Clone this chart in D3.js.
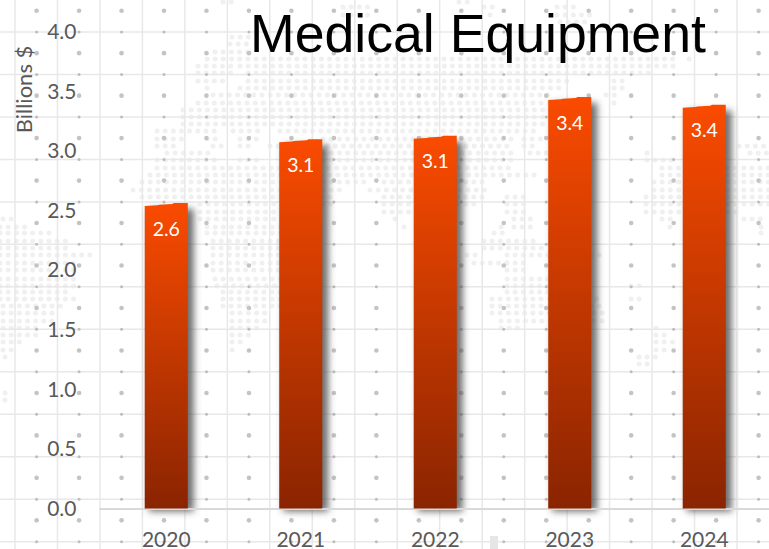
<!DOCTYPE html>
<html>
<head>
<meta charset="utf-8">
<script src="https://cdn.jsdelivr.net/npm/d3@7"></script>
<style>
  html, body { margin: 0; padding: 0; background: #fff; overflow: hidden; }
  svg { display: block; }
  .tick text { font-family: Lato, "Open Sans", sans-serif; font-size: 21px; fill: #595959; }
</style>
</head>
<body>
<div id="chart"></div>
<script>

var years = ["2020", "2021", "2022", "2023", "2024"];
var values = [2.565, 3.10, 3.13, 3.455, 3.39];
var valueLabels = ["2.6", "3.1", "3.1", "3.4", "3.4"];
var yTicks = [0, 0.5, 1, 1.5, 2, 2.5, 3, 3.5, 4];

//background world map, rows of dots: [row y, from x, to x, ...]
var mapRows = [
  [2, 223, 233, 459, 470],
  [7, 343, 370, 484, 494, 557, 570],
  [15, 343, 370, 490, 494, 557, 590],
  [22, 560, 585],
  [37, 232, 250],
  [44, 230, 250],
  [52, 215, 250],
  [59, 207, 674, 689, 689],
  [66, 198, 227, 240, 674],
  [73, 198, 227, 248, 650],
  [81, 198, 223, 248, 567, 614, 624],
  [88, 207, 210, 240, 560, 614, 624],
  [95, 213, 550, 606, 617],
  [103, 198, 550, 614, 614],
  [110, 183, 550],
  [117, 183, 547],
  [124, 183, 540],
  [131, 157, 217, 233, 260, 280, 534],
  [139, 157, 180, 207, 217, 240, 260, 323, 510, 524, 544],
  [146, 157, 177, 213, 220, 240, 250, 270, 510, 524, 534, 739, 769],
  [153, 167, 207, 323, 510, 530, 544, 647, 647, 750, 769],
  [160, 157, 217, 240, 260, 323, 510, 647, 674],
  [168, 157, 507, 662, 769],
  [175, 150, 534, 662, 769],
  [182, 142, 277, 323, 360, 384, 484, 654, 769],
  [190, 133, 277, 323, 340, 370, 484, 654, 769],
  [197, 142, 333, 384, 484, 507, 520, 646, 769],
  [204, 200, 333, 384, 477, 507, 520, 646, 769],
  [212, 200, 317, 384, 405, 507, 527, 646, 734],
  [219, 3, 15, 200, 300, 395, 395, 514, 527, 662, 674, 744, 761],
  [227, 0, 23, 207, 293, 404, 404, 501, 501, 514, 527, 670, 670, 761, 761],
  [233, 0, 47, 207, 293, 494, 500, 761, 761],
  [241, 0, 63, 213, 287, 484, 530],
  [248, 0, 63, 213, 287, 484, 544],
  [255, 0, 88, 213, 277, 467, 477, 507, 544, 591, 600],
  [263, 0, 77, 213, 277, 474, 504, 507, 520],
  [270, 0, 73, 213, 277, 507, 520],
  [279, 0, 73, 215, 277, 507, 547],
  [286, 0, 73, 217, 277, 507, 547, 631, 641],
  [292, 0, 63, 223, 277, 507, 544],
  [299, 0, 72, 223, 277, 492, 547, 597, 597, 631, 641],
  [306, 3, 57, 223, 277, 492, 547, 591, 600],
  [313, 3, 48, 232, 267, 492, 547, 594, 600],
  [321, 3, 48, 232, 267, 501, 547, 594, 600],
  [328, 3, 37, 232, 258, 501, 520, 656, 656],
  [335, 3, 32, 232, 250, 656, 664],
  [342, 3, 23, 232, 243, 656, 672],
  [350, 3, 15, 232, 232, 656, 664],
  [357, 5, 5, 639, 656],
  [364, 639, 647],
  [393, 5, 5],
  [400, 5, 5]
];

var width = 769, height = 549;
var margin = { left: 99, right: -2.5, top: 32, bottom: 40.5 };

var svg = d3.select("#chart").append("svg")
  .attr("width", width)
  .attr("height", height);

var defs = svg.append("defs");

var grad = defs.append("linearGradient")
  .attr("id", "barFill")
  .attr("x1", 0).attr("y1", 0).attr("x2", 0).attr("y2", 1);
grad.append("stop").attr("offset", "0%").attr("stop-color", "#fa4b00");
grad.append("stop").attr("offset", "100%").attr("stop-color", "#8a2400");

defs.append("filter")
  .attr("id", "barShadow")
  .attr("x", "-50%").attr("y", "-10%").attr("width", "200%").attr("height", "120%")
  .append("feGaussianBlur")
  .attr("stdDeviation", 3.5);

defs.append("filter")
  .attr("id", "soft")
  .attr("x", 0).attr("y", 0).attr("width", "100%").attr("height", "100%")
  .append("feGaussianBlur")
  .attr("stdDeviation", 0.45);

/************************************************************************************************************/
//background: map dots, grid lines, regular dots

var bg = svg.append("g").classed("background", true).attr("filter", "url(#soft)");

//keeps the blur from fading at the edges
bg.append("rect").attr("width", width).attr("height", height).attr("fill", "#ffffff");

var mapDots = [];
mapRows.forEach(function (row) {
  for (var k = 1; k < row.length; k += 2) {
    var n = Math.round((row[k + 1] - row[k]) / 8.17);
    for (var i = 0; i <= n; i++) {
      mapDots.push([row[k] + i * 8.17, row[0]]);
    }
  }
});

bg.selectAll("circle.map").data(mapDots).enter().append("circle")
  .classed("map", true)
  .attr("cx", function (d) { return d[0]; })
  .attr("cy", function (d) { return d[1]; })
  .attr("r", 2.5)
  .attr("fill", "#f0f0f0");

var gridStep = 42.47;

bg.selectAll("line.vgrid").data(d3.range(0, 18)).enter().append("line")
  .classed("vgrid", true)
  .attr("x1", function (d) { return 15 + d * gridStep; })
  .attr("x2", function (d) { return 15 + d * gridStep; })
  .attr("y1", 0).attr("y2", height)
  .attr("stroke", "#e8e8e8").attr("stroke-width", 1.5);

bg.selectAll("line.hgrid").data(d3.range(0, 13)).enter().append("line")
  .classed("hgrid", true)
  .attr("y1", function (d) { return 32 + d * gridStep; })
  .attr("y2", function (d) { return 32 + d * gridStep; })
  .attr("x1", 0).attr("x2", width)
  .attr("stroke", "#e8e8e8").attr("stroke-width", 1.5);

var dotCols = d3.range(0, 18);

d3.range(0, 13).forEach(function (r) {
  bg.selectAll("circle.big" + r).data(dotCols).enter().append("circle")
    .attr("cx", function (d) { return 36.6 + d * gridStep; })
    .attr("cy", 10.7 + r * gridStep)
    .attr("r", 2.3)
    .attr("fill", "#c4c4c4");
  bg.selectAll("circle.small" + r).data(dotCols).enter().append("circle")
    .attr("cx", function (d) { return 36.6 + d * gridStep; })
    .attr("cy", 32 + r * gridStep)
    .attr("r", 1.5)
    .attr("fill", "#bdbdbd");
});

bg.append("rect")
  .attr("x", 490).attr("y", 536).attr("width", 8).attr("height", 13)
  .attr("fill", "#e6e6e6");

/************************************************************************************************************/
//scales and axes

var x = d3.scaleBand()
  .domain(years)
  .range([margin.left, width - margin.right])
  .paddingInner(0.68)
  .paddingOuter(0.34);

var y = d3.scaleLinear()
  .domain([0, 4])
  .range([height - margin.bottom, margin.top]);

var shadows = svg.append("g").classed("shadows", true);

shadows.selectAll("rect").data(values).enter().append("rect")
  .attr("x", function (d, i) { return x(years[i]) + 4; })
  .attr("y", function (d) { return y(d) + 6; })
  .attr("width", x.bandwidth() + 2)
  .attr("height", function (d) { return y(0) - y(d) - 3; })
  .attr("fill", "#4a4a4a")
  .attr("fill-opacity", 0.8)
  .attr("filter", "url(#barShadow)");

var axisx = svg.append("g")
  .classed("x axisGraph", true)
  .attr("transform", "translate(0," + y(0) + ")")
  .call(d3.axisBottom(x).tickSize(0).tickPadding(38));

axisx.select(".domain")
  .attr("stroke", "#d9d9d9")
  .attr("stroke-width", 2);
axisx.selectAll(".tick text").attr("dy", "0");

var axisy = svg.append("g")
  .classed("y axisGraph", true)
  .attr("transform", "translate(76.5,0)")
  .call(d3.axisLeft(y).tickValues(yTicks).tickFormat(d3.format(".1f")).tickSize(0).tickPadding(0));

axisy.select(".domain").remove();

//bar tops are slightly slanted and stepped, like in the picture
function barPath(d, i) {
  var x0 = x(years[i]), w = x.bandwidth(), t = y(d), b = y(0);
  return "M" + [x0, b] +
    "L" + [x0, t + 3] +
    "L" + [x0 + w * 0.3, t + 2.4] +
    "L" + [x0 + w * 0.34, t + 1.8] +
    "L" + [x0 + w * 0.64, t + 1] +
    "L" + [x0 + w * 0.68, t] +
    "L" + [x0 + w, t] +
    "L" + [x0 + w, b] + "Z";
}

svg.append("g").classed("bars", true)
  .selectAll("path").data(values).enter().append("path")
  .attr("d", barPath)
  .attr("fill", "url(#barFill)");

svg.append("g").classed("labels", true)
  .selectAll("text").data(values).enter().append("text")
  .attr("x", function (d, i) { return x(years[i]) + x.bandwidth() / 2; })
  .attr("y", function (d) { return y(d) + 26; })
  .attr("dy", "0.35em")
  .attr("text-anchor", "middle")
  .attr("font-family", "Lato, 'Open Sans', sans-serif")
  .attr("font-size", "19.5px")
  .attr("fill", "#ffffff")
  .text(function (d, i) { return valueLabels[i]; });

svg.append("text")
  .attr("transform", "translate(32,89.5) rotate(-90)")
  .attr("text-anchor", "middle")
  .attr("font-family", "Lato, 'Open Sans', sans-serif")
  .attr("font-size", "22px")
  .attr("fill", "#595959")
  .text("Billions $");

svg.append("text")
  .attr("x", 478)
  .attr("y", 52)
  .attr("text-anchor", "middle")
  .attr("font-family", "'Liberation Sans', Arial, sans-serif")
  .attr("font-size", "53.6px")
  .attr("fill", "#000000")
  .text("Medical Equipment");

</script>
</body>
</html>
